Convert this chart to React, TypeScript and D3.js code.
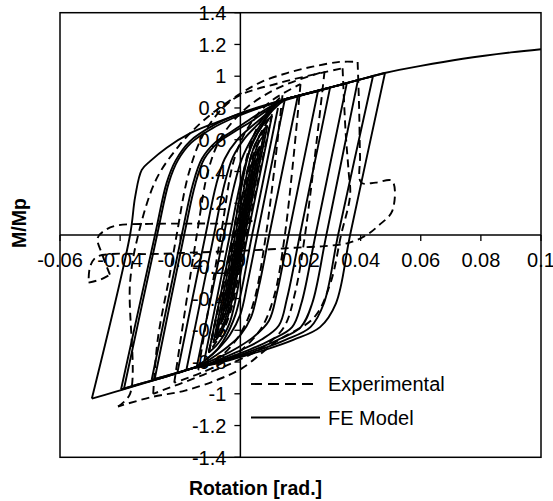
import React from 'react';
import * as d3 from 'd3';

type Pt = [number, number];

const xTicks = [-0.06, -0.04, -0.02, 0, 0.02, 0.04, 0.06, 0.08, 0.1];
const yTicks = [-1.4, -1.2, -1, -0.8, -0.6, -0.4, -0.2, 0, 0.2, 0.4, 0.6, 0.8, 1, 1.2, 1.4];
const seriesNames = ['Experimental', 'FE Model'];
const xTitle = 'Rotation [rad.]';
const yTitle = 'M/Mp';

// FE model, small nearly elastic cycles around the origin (rotation, M/Mp)
const feSmallCycles: Pt[][] = [
  [[0, 0], [0.0035, 0.3]],
  [[0.0035, 0.3], [0.0003, 0], [-0.0021, -0.225], [-0.0029, -0.276], [-0.0035, -0.3]],
  [[-0.0035, -0.3], [-0.0003, 0], [0.0021, 0.225], [0.0029, 0.276], [0.0035, 0.3]],
  [[0.0045, 0.4], [0.0002, 0], [-0.003, -0.3], [-0.0038, -0.368], [-0.0045, -0.4]],
  [[-0.0045, -0.4], [-0.0002, 0], [0.003, 0.3], [0.0038, 0.368], [0.0045, 0.4]],
  [[0.0055, 0.48], [0.0003, 0], [-0.0036, -0.36], [-0.0046, -0.442], [-0.0055, -0.48]],
  [[-0.0055, -0.48], [-0.0003, 0], [0.0036, 0.36], [0.0046, 0.442], [0.0055, 0.48]],
  [[0.0065, 0.56], [0.0005, 0], [-0.004, -0.42], [-0.0054, -0.515], [-0.0065, -0.56]],
  [[-0.0065, -0.56], [-0.0005, 0], [0.004, 0.42], [0.0054, 0.515], [0.0065, 0.56]],
  [[0.0078, 0.63], [0.001, 0], [-0.0041, -0.47], [-0.0061, -0.58], [-0.0078, -0.63]],
  [[-0.0078, -0.63], [-0.001, 0], [0.0041, 0.47], [0.0061, 0.58], [0.0078, 0.63]],
  [[0.009, 0.69], [0.0015, 0], [-0.0041, -0.51], [-0.0068, -0.625], [-0.009, -0.68]],
  [[-0.009, -0.68], [-0.0017, 0], [0.0039, 0.52], [0.0067, 0.635], [0.009, 0.69]],
  [[0.0105, 0.75], [0.0024, 0], [-0.0036, -0.555], [-0.0073, -0.68], [-0.0105, -0.74]],
  [[-0.0105, -0.74], [-0.0025, 0], [0.0035, 0.56], [0.0074, 0.69], [0.0105, 0.75]],
  [[0.0125, 0.8], [0.0039, 0], [-0.0016, -0.5], [-0.0058, -0.67], [-0.0092, -0.75], [-0.012, -0.79]],
];

// FE model, large cycles: each branch runs from one load reversal to the next
const feLargeCycles: Pt[][] = [
  [[-0.012, -0.79], [-0.0035, 0], [0.0002, 0.34], [0.0035, 0.55], [0.0075, 0.7], [0.0105, 0.78], [0.0148, 0.855]],
  [[0.0148, 0.855], [0.0056, 0], [0.0024, -0.3], [0.0, -0.5], [-0.0035, -0.63], [-0.007, -0.71], [-0.0105, -0.77], [-0.0145, -0.83]],
  [[-0.0145, -0.83], [-0.0055, 0], [-0.0022, 0.3], [0.0005, 0.48], [0.0045, 0.63], [0.0085, 0.74], [0.013, 0.84], [0.0191, 0.875]],
  [[0.0191, 0.875], [0.0096, 0], [0.0061, -0.33], [0.0035, -0.52], [0.0, -0.63], [-0.004, -0.7], [-0.0083, -0.76], [-0.0125, -0.81], [-0.018, -0.853]],
  [[-0.018, -0.853], [-0.0088, 0], [-0.0053, 0.32], [-0.0025, 0.49], [0.0015, 0.61], [0.006, 0.7], [0.0095, 0.77], [0.013, 0.84], [0.02, 0.88], [0.0258, 0.905]],
  [[0.0258, 0.905], [0.016, 0], [0.0122, -0.36], [0.0095, -0.54], [0.0045, -0.64], [-0.001, -0.71], [-0.0064, -0.765], [-0.0112, -0.805], [-0.016, -0.84], [-0.021, -0.871]],
  [[-0.021, -0.871], [-0.0116, 0], [-0.008, 0.32], [-0.0052, 0.48], [-0.001, 0.6], [0.0035, 0.68], [0.0085, 0.76], [0.013, 0.84], [0.02, 0.88], [0.0298, 0.925]],
  [[0.0298, 0.925], [0.0198, 0], [0.0155, -0.4], [0.0128, -0.57], [0.0069, -0.66], [0.0008, -0.72], [-0.0053, -0.77], [-0.0106, -0.81], [-0.016, -0.84], [-0.022, -0.873], [-0.0285, -0.907]],
  [[-0.0285, -0.907], [-0.0187, 0], [-0.015, 0.32], [-0.012, 0.48], [-0.0075, 0.58], [-0.002, 0.65], [0.004, 0.72], [0.0085, 0.78], [0.013, 0.84], [0.02, 0.88], [0.03, 0.93], [0.0354, 0.955]],
  [[0.0354, 0.955], [0.025, 0], [0.0203, -0.43], [0.0172, -0.58], [0.0102, -0.66], [0.0033, -0.72], [-0.0037, -0.77], [-0.0099, -0.81], [-0.016, -0.84], [-0.023, -0.878], [-0.0295, -0.912]],
  [[-0.0295, -0.912], [-0.0195, 0], [-0.0158, 0.32], [-0.0128, 0.48], [-0.0085, 0.58], [-0.003, 0.65], [0.0025, 0.72], [0.0075, 0.78], [0.013, 0.84], [0.02, 0.88], [0.03, 0.93], [0.0391, 0.975]],
  [[0.0391, 0.975], [0.0286, 0], [0.0239, -0.43], [0.0201, -0.58], [0.0125, -0.66], [0.005, -0.72], [-0.0026, -0.77], [-0.0093, -0.81], [-0.016, -0.84], [-0.025, -0.893], [-0.032, -0.93], [-0.0387, -0.967]],
  [[-0.0387, -0.967], [-0.0277, 0], [-0.0238, 0.33], [-0.0208, 0.47], [-0.0164, 0.58], [-0.0095, 0.67], [-0.002, 0.74], [0.0055, 0.795], [0.013, 0.845], [0.02, 0.88], [0.03, 0.93], [0.04, 0.98], [0.0441, 1.0]],
  [[0.0441, 1.0], [0.0325, 0], [0.0278, -0.43], [0.0233, -0.58], [0.015, -0.66], [0.0068, -0.72], [-0.0015, -0.77], [-0.0087, -0.81], [-0.016, -0.84], [-0.025, -0.893], [-0.032, -0.93], [-0.0397, -0.973]],
  [[-0.0397, -0.973], [-0.0284, 0], [-0.0245, 0.33], [-0.0215, 0.47], [-0.0168, 0.59], [-0.009, 0.69], [-0.001, 0.76], [0.006, 0.805], [0.013, 0.845], [0.02, 0.88], [0.03, 0.93], [0.04, 0.98], [0.0481, 1.02]],
  [[0.0481, 1.02], [0.0365, 0], [0.0318, -0.43], [0.0265, -0.58], [0.0176, -0.66], [0.0087, -0.72], [-0.0003, -0.77], [-0.0081, -0.81], [-0.016, -0.84], [-0.025, -0.893], [-0.035, -0.95], [-0.042, -0.99], [-0.0494, -1.03]],
  [[-0.0494, -1.03], [-0.0367, 0], [-0.035, 0.24], [-0.0328, 0.41], [-0.03, 0.465], [-0.0245, 0.55], [-0.0168, 0.64], [-0.0079, 0.71], [0, 0.765], [0.0087, 0.815], [0.0187, 0.87], [0.03, 0.93], [0.04, 0.98], [0.048, 1.02], [0.06, 1.065], [0.074, 1.11], [0.09, 1.15], [0.1, 1.17]],
];

// Test, small cycles around the origin
const expSmallCycles: Pt[][] = [
  [[0, 0], [0.004, 0.36]],
  [[0.004, 0.36], [0.0005, 0], [-0.0025, -0.28], [-0.004, -0.36]],
  [[-0.004, -0.36], [-0.0005, 0], [0.0025, 0.28], [0.004, 0.36]],
  [[0.0062, 0.55], [0.0008, 0], [-0.0035, -0.42], [-0.0062, -0.54]],
  [[-0.0062, -0.54], [-0.0008, 0], [0.0035, 0.42], [0.0062, 0.55]],
  [[0.0082, 0.67], [0.0012, 0], [-0.0042, -0.5], [-0.0082, -0.65]],
  [[-0.0082, -0.65], [-0.0012, 0], [0.0042, 0.5], [0.0082, 0.67]],
  [[0.0105, 0.76], [0.002, 0], [-0.0045, -0.55], [-0.0105, -0.74]],
  [[-0.0105, -0.74], [-0.002, 0], [0.0045, 0.55], [0.0105, 0.76]],
];

// Test, large cycles up to the loss of strength and the pinched loops after it
const expLargeCycles: Pt[][] = [
  [[-0.0105, -0.74], [-0.0025, 0], [0.003, 0.55], [0.0075, 0.74], [0.014, 0.88]],
  [[0.014, 0.88], [0.0085, 0], [0.004, -0.45], [-0.001, -0.65], [-0.0075, -0.78], [-0.014, -0.85]],
  [[-0.014, -0.85], [-0.0065, 0], [-0.002, 0.48], [0.003, 0.69], [0.01, 0.84], [0.02, 0.95]],
  [[0.02, 0.95], [0.0148, 0], [0.011, -0.4], [0.0065, -0.6], [-0.002, -0.76], [-0.012, -0.86], [-0.022, -0.93]],
  [[-0.022, -0.93], [-0.0145, 0], [-0.0105, 0.42], [-0.0062, 0.62], [0.002, 0.8], [0.013, 0.93], [0.028, 1.03]],
  [[0.028, 1.03], [0.0215, 0], [0.018, -0.38], [0.0145, -0.58], [0.008, -0.7], [-0.002, -0.8], [-0.015, -0.9], [-0.029, -1.0]],
  [[-0.029, -1.0], [-0.0275, -0.66], [-0.0234, -0.24], [-0.0212, 0], [-0.017, 0.4], [-0.0115, 0.66], [-0.002, 0.86], [0.0135, 0.96], [0.034, 1.05]],
  [[0.034, 1.05], [0.035, 0.65], [0.036, 0.4], [0.0365, 0.25], [0.0335, 0], [0.03, -0.3], [0.0245, -0.52], [0.012, -0.67], [0.0005, -0.84], [-0.0074, -0.91], [-0.0184, -0.98], [-0.0294, -1.02], [-0.0407, -1.08]],
  [[-0.0407, -1.08], [-0.0367, -1.0], [-0.0367, -0.3], [-0.034, 0], [-0.028, 0.35], [-0.0205, 0.56], [-0.0135, 0.7], [-0.007, 0.8], [0, 0.89], [0.0065, 0.96], [0.0155, 1.02], [0.024, 1.06], [0.033, 1.09], [0.039, 1.09]],
  [[0.039, 1.09], [0.0395, 0.8], [0.0398, 0.5], [0.0402, 0.33], [0.045, 0.33], [0.0505, 0.34], [0.0505, 0.15], [0.046, 0.06], [0.042, 0], [0.036, -0.05], [0.028, -0.07], [0.018, -0.08], [0.01, -0.09], [0, -0.1], [-0.015, -0.11], [-0.03, -0.12], [-0.043, -0.12], [-0.048, -0.14], [-0.05, -0.2], [-0.0505, -0.3]],
  [[-0.0505, -0.3], [-0.0465, -0.28], [-0.0434, -0.25]],
  [[-0.0434, -0.25], [-0.046, -0.12], [-0.0475, -0.02], [-0.045, 0.03], [-0.041, 0.06], [-0.03, 0.07], [-0.015, 0.072], [0, 0.075], [0.004, 0.09]],
];

const W = 553;
const H = 501;
const plot = { left: 60, right: 541, top: 12.7, bottom: 457.3 };
const font = '"Liberation Sans", Arial, Helvetica, sans-serif';

// tick text with a plain hyphen for negative values
const fmt = (v: number) => d3.format('~g')(v).replace('\u2212', '-');

export default function App() {
  const x = d3.scaleLinear().domain([-0.06, 0.1]).range([plot.left, plot.right]);
  const y = d3.scaleLinear().domain([-1.4, 1.4]).range([plot.bottom, plot.top]);
  const line = d3
    .line<Pt>()
    .x((d) => x(d[0]))
    .y((d) => y(d[1]))
    .curve(d3.curveCatmullRom.alpha(0.5));

  const x0 = x(0);
  const y0 = y(0);
  const fe = [...feSmallCycles, ...feLargeCycles];
  const exp = [...expSmallCycles, ...expLargeCycles];
  const dash = '8,5';

  return (
    <svg
      width={W}
      height={H}
      viewBox={`0 0 ${W} ${H}`}
      style={{ position: 'absolute', left: 0, top: 0, background: '#fff' }}
      fontFamily={font}
    >
      <rect x={0} y={0} width={W} height={H} fill="#fff" />
      {/* tick labels */}
      {yTicks.map((t) => (
        <text key={`yl${t}`} x={x0 - 14} y={y(t)} dy="0.36em" textAnchor="end" fontSize={20} fill="#000">
          {fmt(t)}
        </text>
      ))}
      {xTicks.map((t) => (
        <text key={`xl${t}`} x={x(t)} y={y0 + 32} textAnchor="middle" fontSize={20} fill="#000">
          {fmt(t)}
        </text>
      ))}
      {/* frame and axes */}
      <rect
        x={plot.left}
        y={plot.top}
        width={plot.right - plot.left}
        height={plot.bottom - plot.top}
        fill="none"
        stroke="#000"
        strokeWidth={1.5}
      />
      <line x1={x0} x2={x0} y1={plot.top} y2={plot.bottom} stroke="#000" strokeWidth={1.5} />
      <line x1={plot.left} x2={plot.right} y1={y0} y2={y0} stroke="#000" strokeWidth={1.5} />
      {yTicks.map((t) => (
        <line key={`yt${t}`} x1={x0 - 6} x2={x0} y1={y(t)} y2={y(t)} stroke="#000" strokeWidth={1.3} />
      ))}
      {xTicks.map((t) => (
        <line key={`xt${t}`} x1={x(t)} x2={x(t)} y1={y0} y2={y0 + 6} stroke="#000" strokeWidth={1.3} />
      ))}
      {/* curves */}
      <g fill="none" stroke="#000" strokeLinejoin="round">
        {exp.map((b, i) => (
          <path key={`e${i}`} d={line(b) || ''} strokeWidth={1.9} strokeDasharray={dash} />
        ))}
        {fe.map((b, i) => (
          <path key={`f${i}`} d={line(b) || ''} strokeWidth={1.9} />
        ))}
      </g>
      {/* legend */}
      <line x1={251} x2={318} y1={384} y2={384} stroke="#000" strokeWidth={1.9} strokeDasharray="11,6" />
      <text x={328} y={390.5} fontSize={20} fill="#000">
        {seriesNames[0]}
      </text>
      <line x1={251} x2={320} y1={417.5} y2={417.5} stroke="#000" strokeWidth={1.9} />
      <text x={328} y={424.5} fontSize={20} fill="#000">
        {seriesNames[1]}
      </text>
      {/* axis titles */}
      <text x={255.5} y={495} textAnchor="middle" fontSize={19.5} fontWeight="bold" fill="#000">
        {xTitle}
      </text>
      <text
        transform={`translate(26,223) rotate(-90)`}
        textAnchor="middle"
        fontSize={19.5}
        fontWeight="bold"
        fill="#000"
      >
        {yTitle}
      </text>
    </svg>
  );
}
